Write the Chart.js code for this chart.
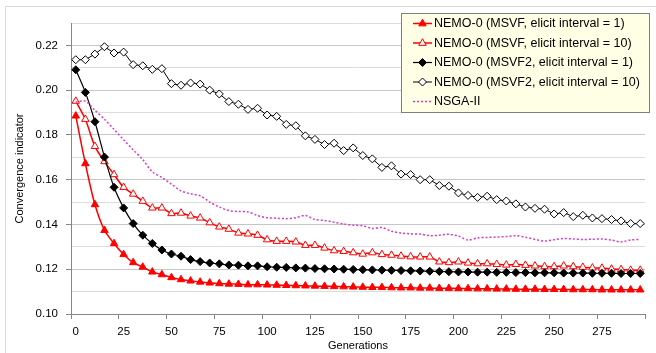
<!DOCTYPE html>
<html>
<head>
<meta charset="utf-8">
<script src="https://cdn.jsdelivr.net/npm/chart.js@4.4.1/dist/chart.umd.min.js"></script>
<style>
  html, body { margin: 0; padding: 0; background: #fff; }
  #wrap { width: 656px; height: 353px; position: relative; }
</style>
</head>
<body>
<div id="wrap"><canvas id="chart"></canvas></div>
<script>
// Generații (categorii)
const generations = [0, 5, 10, 15, 20, 25, 30, 35, 40, 45, 50, 55, 60, 65, 70, 75, 80, 85, 90, 95,
  100, 105, 110, 115, 120, 125, 130, 135, 140, 145, 150, 155, 160, 165, 170, 175, 180, 185, 190, 195,
  200, 205, 210, 215, 220, 225, 230, 235, 240, 245, 250, 255, 260, 265, 270, 275, 280, 285, 290, 295];

const xTickLabels = [0, 25, 50, 75, 100, 125, 150, 175, 200, 225, 250, 275];
const yTickLabels = [0.10, 0.12, 0.14, 0.16, 0.18, 0.20, 0.22];

const seriesNames = [
  "NEMO-0 (MSVF, elicit interval = 1)",
  "NEMO-0 (MSVF, elicit interval = 10)",
  "NEMO-0 (MSVF2, elicit interval = 1)",
  "NEMO-0 (MSVF2, elicit interval = 10)",
  "NSGA-II"
];

const msvf1 = [0.1885, 0.1672, 0.1489, 0.1374, 0.1315, 0.1266, 0.1230, 0.1210, 0.1188, 0.1176,
  0.1163, 0.1154, 0.1148, 0.1143, 0.1139, 0.1136, 0.1134, 0.1133, 0.1131, 0.1131,
  0.1130, 0.1129, 0.1128, 0.1127, 0.1126, 0.1125, 0.1124, 0.1123, 0.1122, 0.1121,
  0.1120, 0.1119, 0.1119, 0.1118, 0.1117, 0.1117, 0.1116, 0.1116, 0.1115, 0.1115,
  0.1114, 0.1114, 0.1113, 0.1113, 0.1112, 0.1112, 0.1111, 0.1111, 0.1111, 0.1110,
  0.1110, 0.1110, 0.1109, 0.1109, 0.1109, 0.1108, 0.1108, 0.1108, 0.1108, 0.1108];

const msvf10 = [0.1951, 0.1870, 0.1749, 0.1681, 0.1623, 0.1566, 0.1536, 0.1504, 0.1474, 0.1474,
  0.1449, 0.1451, 0.1438, 0.1429, 0.1408, 0.1389, 0.1379, 0.1362, 0.1358, 0.1352,
  0.1332, 0.1325, 0.1325, 0.1322, 0.1307, 0.1307, 0.1295, 0.1283, 0.1280, 0.1274,
  0.1268, 0.1274, 0.1266, 0.1263, 0.1259, 0.1256, 0.1255, 0.1255, 0.1233, 0.1230,
  0.1233, 0.1228, 0.1225, 0.1225, 0.1222, 0.1219, 0.1222, 0.1218, 0.1215, 0.1212,
  0.1212, 0.1215, 0.1212, 0.1209, 0.1206, 0.1205, 0.1201, 0.1199, 0.1196, 0.1196];

const msvf2_1 = [0.2091, 0.1990, 0.1859, 0.1701, 0.1566, 0.1474, 0.1404, 0.1352, 0.1315, 0.1286,
  0.1268, 0.1258, 0.1243, 0.1234, 0.1228, 0.1224, 0.1219, 0.1218, 0.1215, 0.1215,
  0.1211, 0.1209, 0.1208, 0.1206, 0.1205, 0.1203, 0.1202, 0.1201, 0.1200, 0.1199,
  0.1198, 0.1197, 0.1196, 0.1195, 0.1194, 0.1193, 0.1192, 0.1191, 0.1190, 0.1189,
  0.1188, 0.1188, 0.1187, 0.1187, 0.1186, 0.1186, 0.1185, 0.1185, 0.1184, 0.1184,
  0.1184, 0.1183, 0.1183, 0.1183, 0.1182, 0.1182, 0.1182, 0.1181, 0.1181, 0.1181];

const msvf2_10 = [0.2136, 0.2136, 0.2161, 0.2194, 0.2166, 0.2170, 0.2114, 0.2109, 0.2093, 0.2096,
  0.2029, 0.2022, 0.2032, 0.2027, 0.2000, 0.1983, 0.1949, 0.1937, 0.1914, 0.1919,
  0.1889, 0.1883, 0.1847, 0.1841, 0.1796, 0.1780, 0.1757, 0.1763, 0.1730, 0.1742,
  0.1708, 0.1693, 0.1655, 0.1662, 0.1625, 0.1623, 0.1600, 0.1600, 0.1574, 0.1571,
  0.1541, 0.1530, 0.1521, 0.1526, 0.1511, 0.1505, 0.1492, 0.1478, 0.1472, 0.1468,
  0.1447, 0.1453, 0.1435, 0.1441, 0.1429, 0.1426, 0.1422, 0.1416, 0.1404, 0.1404];

const nsga2 = [0.1947, 0.1951, 0.1910, 0.1870, 0.1825, 0.1778, 0.1733, 0.1690, 0.1635, 0.1610,
  0.1580, 0.1550, 0.1537, 0.1528, 0.1500, 0.1478, 0.1462, 0.1458, 0.1456, 0.1440,
  0.1430, 0.1428, 0.1426, 0.1430, 0.1440, 0.1422, 0.1418, 0.1410, 0.1402, 0.1397,
  0.1394, 0.1382, 0.1386, 0.1370, 0.1362, 0.1358, 0.1357, 0.1350, 0.1352, 0.1356,
  0.1348, 0.1330, 0.1340, 0.1342, 0.1344, 0.1346, 0.1350, 0.1343, 0.1333, 0.1326,
  0.1332, 0.1337, 0.1335, 0.1333, 0.1334, 0.1335, 0.1330, 0.1322, 0.1331, 0.1333];

const FONT = "'Liberation Sans', Arial, sans-serif";

function toPoints(values) {
  return values.map((v, i) => ({ x: generations[i], y: v }));
}

// stilurile pentru fiecare serie
const styles = [
  { color: '#FF0000', fill: '#FF0000', shape: 'triangle', dash: [], width: 1.5, tension: 0.3, radius: 4.3 },
  { color: '#FF0000', fill: '#FFFFFF', shape: 'triangle', dash: [], width: 1.5, tension: 0.3, radius: 4.3 },
  { color: '#000000', fill: '#000000', shape: 'rectRot', dash: [], width: 1.2, tension: 0.3, radius: 4 },
  { color: '#000000', fill: '#FFFFFF', shape: 'rectRot', dash: [], width: 1.0, tension: 0, radius: 4 },
  { color: '#D63BC8', fill: '#D63BC8', shape: false, dash: [2, 2], width: 1.5, tension: 0.3, radius: 0 }
];
const seriesValues = [msvf1, msvf10, msvf2_1, msvf2_10, nsga2];

const datasets = seriesValues.map((vals, k) => ({
  label: seriesNames[k],
  data: toPoints(vals),
  borderColor: styles[k].color,
  backgroundColor: styles[k].fill,
  borderWidth: styles[k].width,
  borderDash: styles[k].dash,
  tension: styles[k].tension,
  pointStyle: styles[k].shape || 'circle',
  pointRadius: styles[k].radius,
  pointBorderColor: styles[k].color,
  pointBackgroundColor: styles[k].fill,
  pointBorderWidth: 1,
  order: 5 - k
}));

// Chenar exterior + legendă desenată manual
const decorPlugin = {
  id: 'decor',
  afterDraw(chart) {
    const ctx = chart.ctx;
    ctx.save();
    ctx.strokeStyle = '#D9D9D9';
    ctx.lineWidth = 1;
    ctx.strokeRect(5.5, 6.5, 700, 400);

    // legenda
    const bx = 401, by = 13, bw = 249, bh = 100;
    ctx.fillStyle = '#FFFFE6';
    ctx.fillRect(bx, by, bw, bh);
    ctx.strokeStyle = '#7F7F7F';
    ctx.strokeRect(bx + 0.5, by + 0.5, bw - 1, bh - 1);

    ctx.font = '12.5px ' + FONT;
    ctx.textBaseline = 'middle';
    ctx.textAlign = 'left';
    for (let k = 0; k < seriesNames.length; k++) {
      const cy = 23.5 + k * 19.5;
      const st = styles[k];
      ctx.strokeStyle = st.color;
      ctx.lineWidth = st.width;
      ctx.setLineDash(st.dash);
      ctx.beginPath();
      ctx.moveTo(413, cy);
      ctx.lineTo(432, cy);
      ctx.stroke();
      ctx.setLineDash([]);
      if (st.shape) {
        ctx.fillStyle = st.fill;
        ctx.strokeStyle = st.color;
        ctx.lineWidth = 1;
        ctx.beginPath();
        const r = st.radius;
        if (st.shape === 'triangle') {
          ctx.moveTo(422.5, cy - r);
          ctx.lineTo(422.5 + r * 0.87, cy + r * 0.55);
          ctx.lineTo(422.5 - r * 0.87, cy + r * 0.55);
        } else {
          ctx.moveTo(422.5, cy - r);
          ctx.lineTo(422.5 + r, cy);
          ctx.lineTo(422.5, cy + r);
          ctx.lineTo(422.5 - r, cy);
        }
        ctx.closePath();
        ctx.fill();
        ctx.stroke();
      }
      ctx.fillStyle = '#000000';
      ctx.fillText(seriesNames[k], 434, cy + 0.5);
    }
    ctx.restore();
  }
};

new Chart(document.getElementById('chart'), {
  type: 'line',
  data: { datasets: datasets },
  options: {
    responsive: true,
    maintainAspectRatio: false,
    animation: false,
    events: [],
    layout: { padding: { left: 0, top: 23, right: 11, bottom: 0 } },
    plugins: {
      legend: { display: false },
      tooltip: { enabled: false }
    },
    scales: {
      x: {
        type: 'linear',
        min: -2.5,
        max: 297.5,
        afterBuildTicks: scale => {
          scale.ticks = xTickLabels.map(v => ({ value: v - 2.5 })).concat([{ value: 297.5 }]);
        },
        afterFit: scale => { scale.height = 353 - 314; },
        border: { color: '#868686', width: 1 },
        grid: { drawOnChartArea: false, color: '#868686', tickLength: 5 },
        ticks: {
          labelOffset: 4.8,
          padding: 6,
          color: '#000',
          font: { family: FONT, size: 11.5 },
          maxRotation: 0,
          autoSkip: false,
          callback: v => {
            const g = Math.round(v + 2.5);
            return xTickLabels.includes(g) ? String(g) : '';
          }
        },
        title: {
          display: true,
          text: 'Generations',
          color: '#000',
          font: { family: FONT, size: 11 },
          padding: { top: 0, bottom: 0 }
        }
      },
      y: {
        min: 0.10,
        max: 0.23,
        afterBuildTicks: scale => {
          const t = [];
          for (let k = 0; k <= 13; k++) t.push({ value: +(0.10 + k * 0.01).toFixed(2) });
          scale.ticks = t;
        },
        afterFit: scale => { scale.width = 71; },
        border: { color: '#868686', width: 1 },
        grid: {
          color: ctx => (Math.round(ctx.tick.value * 100) % 2 === 0 ? '#C6C6C6' : '#DCDCDC'),
          tickColor: ctx => (Math.round(ctx.tick.value * 100) % 2 === 0 && ctx.tick.value < 0.225 ? '#868686' : 'rgba(0,0,0,0)'),
          tickLength: 5
        },
        ticks: {
          padding: 8,
          color: '#000',
          font: { family: FONT, size: 11.5 },
          autoSkip: false,
          callback: v => {
            const r = Math.round(v * 100) / 100;
            return yTickLabels.some(t => Math.abs(t - r) < 1e-6) ? r.toFixed(2) : '';
          }
        },
        title: {
          display: true,
          text: 'Convergence indicator',
          color: '#000',
          font: { family: FONT, size: 11 },
          padding: { top: 13, bottom: 0 }
        }
      }
    }
  },
  plugins: [decorPlugin]
});
</script>
</body>
</html>
